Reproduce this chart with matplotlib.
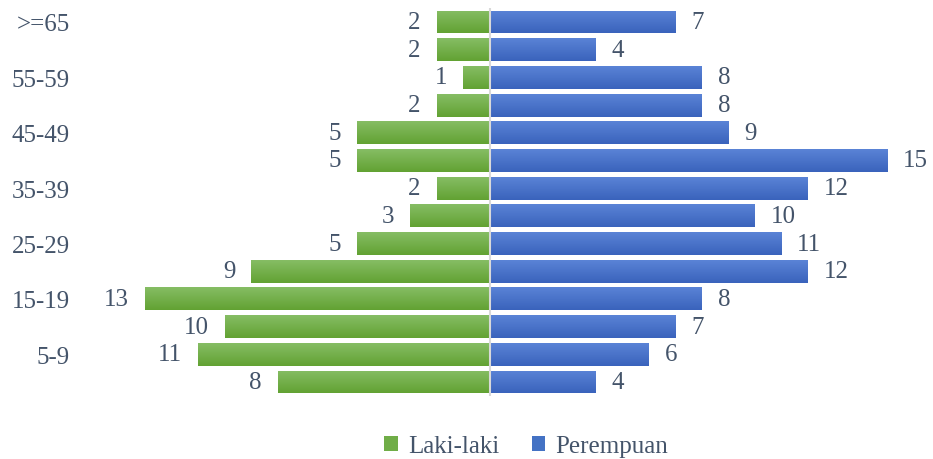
import numpy as np
import matplotlib
matplotlib.use("Agg")
import matplotlib.pyplot as plt
from matplotlib.colors import LinearSegmentedColormap
from matplotlib.patches import Patch

# ---- data (bottom to top) ----
age_groups = ["0-4", "5-9", "10-14", "15-19", "20-24", "25-29", "30-34",
              "35-39", "40-44", "45-49", "50-54", "55-59", "60-64", ">=65"]
laki = [8, 11, 10, 13, 9, 5, 3, 2, 5, 5, 2, 1, 2, 2]
perempuan = [4, 6, 7, 8, 12, 11, 10, 12, 15, 9, 8, 8, 4, 7]
series_names = ["Laki-laki", "Perempuan"]

text_color = "#44546A"
green = "#70AD47"
blue = "#4472C4"
font = ["Liberation Serif", "DejaVu Serif"]
plt.rcParams["font.family"] = font
fs = 18

fig = plt.figure(figsize=(9.33, 4.6), dpi=100)
ax = fig.add_axes([79 / 933, (460 - 396.85) / 460, (927 - 79) / 933, 387.7 / 460])

y = np.arange(len(age_groups))
h = 0.83

def gradient_bars(bars, c_top, c_bot):
    cmap = LinearSegmentedColormap.from_list("g", [c_bot, c_top])
    grad = np.linspace(0, 1, 64).reshape(-1, 1)
    for b in bars:
        x0, y0 = b.get_x(), b.get_y()
        w, hh = b.get_width(), b.get_height()
        b.set_facecolor("none")
        im = ax.imshow(grad, cmap=cmap, aspect="auto", origin="lower",
                       extent=[x0, x0 + w, y0, y0 + hh], zorder=2)
        im.set_clip_path(b)

bl = ax.barh(y, [-v for v in laki], height=h, color=green, lw=0, zorder=2)
bp = ax.barh(y, perempuan, height=h, color=blue, lw=0, zorder=2)
gradient_bars(bl, "#86BD64", "#62A233")
gradient_bars(bp, "#5A83D6", "#3A63BC")

ax.axvline(0, color="#D9D9D9", lw=1.5, zorder=3)

for yi, v in zip(y, laki):
    ax.annotate(str(v), (-v, yi), xytext=(-11.5, 0), textcoords="offset points",
                ha="right", va="center", fontsize=fs, color=text_color)
for yi, v in zip(y, perempuan):
    ax.annotate(str(v), (v, yi), xytext=(11.5, 0), textcoords="offset points",
                ha="left", va="center", fontsize=fs, color=text_color)

ax.set_xlim(-15.5, 16.5)
ax.set_ylim(-0.5, len(age_groups) - 0.5)
ax.set_xticks([])
ax.set_yticks(y[1::2])
ax.set_yticklabels(age_groups[1::2], fontsize=fs, color=text_color)
ax.tick_params(axis="y", length=0, pad=6.5)
for s in ax.spines.values():
    s.set_visible(False)

handles = [Patch(facecolor=green, edgecolor="none"), Patch(facecolor=blue, edgecolor="none")]
fig.legend(handles, series_names, loc="center", bbox_to_anchor=(526 / 933, 1 - 447 / 460),
           ncol=2, frameon=False, fontsize=fs, labelcolor=text_color,
           handlelength=0.55, handleheight=0.55, handletextpad=0.4, columnspacing=1.3)

fig.savefig("out.png", dpi=100)
